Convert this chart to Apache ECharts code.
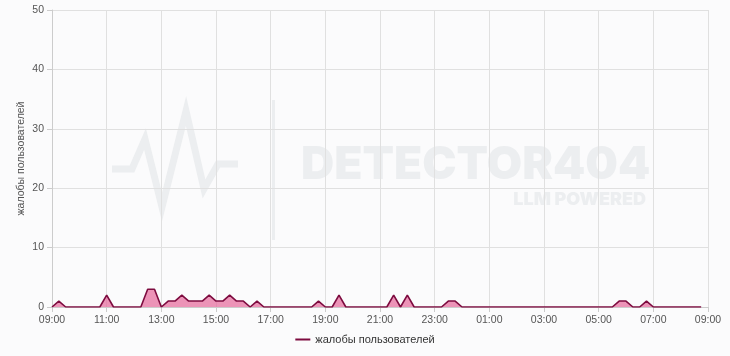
<!DOCTYPE html>
<html>
<head>
<meta charset="utf-8">
<script src="https://cdn.jsdelivr.net/npm/echarts@6/dist/echarts.min.js"></script>
<style>
html,body{margin:0;padding:0;background:#fbfbfc;}
#c{width:730px;height:356px;}
</style>
</head>
<body>
<div id="c"></div>
<script>
// 15-minute slots starting 09:00, grouped per hour (4 values each)
const seriesName = "жалобы пользователей";
const hourLabels = ["09","10","11","12","13","14","15","16","17","18","19","20","21","22","23","00","01","02","03","04","05","06","07","08"];
const complaints = [
  0,1,0,0,   // 09
  0,0,0,0,   // 10
  2,0,0,0,   // 11
  0,0,3,3,   // 12
  0,1,1,2,   // 13
  1,1,1,2,   // 14
  1,1,2,1,   // 15
  1,0,1,0,   // 16
  0,0,0,0,   // 17
  0,0,0,1,   // 18
  0,0,2,0,   // 19
  0,0,0,0,   // 20
  0,0,2,0,   // 21
  2,0,0,0,   // 22
  0,0,1,1,   // 23
  0,0,0,0,   // 00
  0,0,0,0,   // 01
  0,0,0,0,   // 02
  0,0,0,0,   // 03
  0,0,0,0,   // 04
  0,0,0,1,   // 05
  1,0,0,1,   // 06
  0,0,0,0,   // 07
  0,0,0,0    // 08
];
const minutes = ["00","15","30","45"];
const xTickLabels = ["09:00","11:00","13:00","15:00","17:00","19:00","21:00","23:00","01:00","03:00","05:00","07:00","09:00"];

const data = complaints.map((v, i) => [i / 4, v]);

const chart = echarts.init(document.getElementById('c'));
const font = 'Liberation Sans, Arial, sans-serif';
const wm = '#eceef0';
chart.setOption({
  backgroundColor: '#fbfbfc',
  animation: false,
  grid: {left: 52, right: 22, top: 10, bottom: 49, containLabel: false},
  graphic: [
    {type: 'polyline', silent: true, z: 0,
     shape: {points: [[112,169],[132,169],[145,139],[162,207],[186,111],[204,189],[218,164],[238,164]]},
     style: {stroke: wm, lineWidth: 7, fill: null, lineJoin: 'miter'}},
    {type: 'rect', silent: true, z: 0,
     shape: {x: 272, y: 100, width: 3, height: 140},
     style: {fill: wm}},
    {type: 'text', silent: true, z: 0, left: 301, top: 142,
     style: {text: 'DETECTOR404', fill: wm, font: '900 46px Inter, sans-serif'}},
    {type: 'text', silent: true, z: 0, right: 84, top: 191,
     style: {text: 'LLM POWERED', fill: wm, font: '900 18px Inter, sans-serif', align: 'right'}}
  ],
  legend: {
    bottom: 6, left: 'center', itemWidth: 15, itemHeight: 2, icon: 'rect',
    textStyle: {fontSize: 11, color: '#333', fontFamily: font},
    data: [{name: seriesName, icon: 'rect', itemStyle: {color: '#7d0b3f'}}]
  },
  xAxis: {
    type: 'value', min: 0, max: 24, interval: 2,
    axisLine: {show: true, lineStyle: {color: '#ccc'}},
    axisTick: {show: true, lineStyle: {color: '#ccc'}},
    splitLine: {show: true, lineStyle: {color: '#e0e0e0'}},
    axisLabel: {
      color: '#555', fontSize: 10.5, fontFamily: font, margin: 8,
      formatter: v => xTickLabels[Math.round(v / 2)]
    }
  },
  yAxis: {
    type: 'value', min: 0, max: 50, interval: 10,
    name: seriesName, nameLocation: 'middle', nameGap: 25, nameMoveOverlap: false,
    nameTextStyle: {color: '#555', fontSize: 10.5, fontFamily: font},
    axisLine: {show: true, lineStyle: {color: '#ccc'}},
    axisTick: {show: true, lineStyle: {color: '#ccc'}},
    splitLine: {show: true, lineStyle: {color: '#e0e0e0'}},
    axisLabel: {color: '#555', fontSize: 10.5, fontFamily: font, margin: 8}
  },
  tooltip: {trigger: 'axis',
    formatter: p => hourLabels[Math.floor(p[0].value[0])] + ':' + minutes[Math.round((p[0].value[0] % 1) * 4)] + ' ' + p[0].value[1]},
  series: [{
    name: seriesName,
    type: 'line',
    data: data,
    symbol: 'none',
    showSymbol: false,
    smooth: false,
    lineStyle: {color: '#7d0b3f', width: 1.6},
    itemStyle: {color: '#7d0b3f'},
    areaStyle: {color: '#e5679a', opacity: 0.7}
  }]
});
</script>
</body>
</html>
